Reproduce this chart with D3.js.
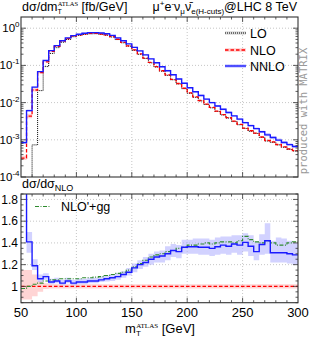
<!DOCTYPE html>
<html>
<head>
<meta charset="utf-8">
<script src="https://cdn.jsdelivr.net/npm/d3@7"></script>
<style>
  body { margin: 0; background: #fff; }
  svg { font-family: "Liberation Sans", Arial, sans-serif; }
</style>
</head>
<body>
<svg id="chart" width="311" height="340"></svg>
<script>
// bin lower edges (5 GeV bins from 50 to 300)
var binLo = d3.range(50, 300, 5);

// dsigma/dmT [fb/GeV]
var lo = [null, null, 0.00073, 0.021, 0.093, 0.21, 0.30, 0.42, 0.50, 0.59,
  0.645, 0.685, 0.705, 0.71, 0.685, 0.65, 0.58, 0.495, 0.405, 0.33,
  0.255, 0.199, 0.153, 0.117, 0.0905, 0.070, 0.054, 0.041, 0.0318, 0.0237,
  0.0178, 0.0139, 0.0111, 0.00888, 0.00722, 0.00578, 0.00466, 0.00384, 0.00309, 0.00254,
  0.00201, 0.0017, 0.00148, 0.00116, 0.00093, 0.00085, 0.00073, 0.00063, 0.00055, 0.0005];
var nlo = [0.000323, 0.00433, 0.0218, 0.0636, 0.1239, 0.2404, 0.3238, 0.4466, 0.5238, 0.6117,
  0.6635, 0.7019, 0.7238, 0.7238, 0.6981, 0.6636, 0.5926, 0.5046, 0.4144, 0.3363,
  0.2607, 0.2042, 0.1574, 0.12, 0.0929, 0.0719, 0.0554, 0.0421, 0.0326, 0.0243,
  0.0183, 0.01429, 0.0114, 0.00912, 0.00741, 0.00593, 0.00478, 0.00394, 0.00317, 0.00261,
  0.00206, 0.00175, 0.00152, 0.00119, 0.000958, 0.000878, 0.000748, 0.000649, 0.000569, 0.000512];
var nnlo = [0.00084, 0.0061, 0.026, 0.068, 0.135, 0.25, 0.34, 0.46, 0.55, 0.63,
  0.69, 0.73, 0.76, 0.76, 0.74, 0.71, 0.64, 0.55, 0.46, 0.38,
  0.305, 0.245, 0.192, 0.150, 0.118, 0.092, 0.072, 0.056, 0.043, 0.033,
  0.025, 0.0195, 0.0155, 0.0124, 0.0100, 0.0081, 0.0066, 0.0054, 0.0044, 0.0036,
  0.0029, 0.0024, 0.0020, 0.00165, 0.00136, 0.00115, 0.00098, 0.00085, 0.00074, 0.00066];

// ratios to NLO
var rNNLO = [2.6, 1.41, 1.19, 1.07, 1.09, 1.04, 1.05, 1.03, 1.05, 1.03,
  1.04, 1.04, 1.05, 1.05, 1.06, 1.07, 1.08, 1.09, 1.11, 1.13,
  1.17, 1.20, 1.22, 1.25, 1.27, 1.28, 1.30, 1.33, 1.32, 1.36,
  1.365, 1.365, 1.36, 1.36, 1.35, 1.365, 1.38, 1.37, 1.39, 1.38,
  1.405, 1.37, 1.32, 1.385, 1.42, 1.31, 1.31, 1.31, 1.30, 1.29];
var rNNLOlo = [2.4, 1.31, 1.15, 1.04, 1.06, 1.02, 1.03, 1.01, 1.03, 1.01,
  1.02, 1.02, 1.03, 1.03, 1.04, 1.045, 1.05, 1.06, 1.08, 1.10,
  1.13, 1.16, 1.18, 1.20, 1.22, 1.22, 1.24, 1.27, 1.26, 1.30,
  1.30, 1.30, 1.29, 1.29, 1.28, 1.29, 1.30, 1.29, 1.31, 1.29,
  1.32, 1.28, 1.24, 1.29, 1.30, 1.22, 1.22, 1.22, 1.21, 1.20];
var rNNLOhi = [2.9, 1.50, 1.25, 1.11, 1.12, 1.07, 1.08, 1.06, 1.08, 1.06,
  1.07, 1.07, 1.08, 1.08, 1.09, 1.10, 1.11, 1.12, 1.14, 1.17,
  1.21, 1.24, 1.27, 1.30, 1.32, 1.33, 1.37, 1.39, 1.38, 1.43,
  1.43, 1.44, 1.44, 1.44, 1.43, 1.45, 1.46, 1.46, 1.47, 1.47,
  1.49, 1.47, 1.41, 1.48, 1.58, 1.42, 1.45, 1.44, 1.42, 1.40];
var rNLOlo = [0.88, 0.88, 0.91, 0.95, 0.975, 0.98, 0.98, 0.98, 0.98, 0.98,
  0.98, 0.98, 0.98, 0.98, 0.98, 0.98, 0.98, 0.98, 0.98, 0.98,
  0.98, 0.98, 0.98, 0.98, 0.98, 0.98, 0.98, 0.98, 0.98, 0.98,
  0.98, 0.98, 0.98, 0.98, 0.98, 0.98, 0.98, 0.98, 0.98, 0.98,
  0.98, 0.98, 0.98, 0.98, 0.98, 0.98, 0.98, 0.98, 0.98, 0.98];
var rNLOhi = [1.15, 1.15, 1.11, 1.05, 1.03, 1.02, 1.02, 1.02, 1.02, 1.02,
  1.02, 1.02, 1.02, 1.02, 1.02, 1.02, 1.02, 1.02, 1.02, 1.02,
  1.02, 1.02, 1.02, 1.02, 1.02, 1.02, 1.02, 1.02, 1.02, 1.02,
  1.02, 1.02, 1.02, 1.02, 1.02, 1.02, 1.02, 1.02, 1.02, 1.02,
  1.02, 1.02, 1.02, 1.02, 1.02, 1.02, 1.02, 1.02, 1.02, 1.02];
var rNLOpgg = [0.98, 1.00, 1.02, 1.03, 1.05, 1.06, 1.06, 1.07, 1.07, 1.07,
  1.07, 1.08, 1.08, 1.085, 1.09, 1.10, 1.11, 1.12, 1.13, 1.15,
  1.18, 1.21, 1.24, 1.27, 1.29, 1.30, 1.32, 1.33, 1.35, 1.36,
  1.38, 1.38, 1.39, 1.40, 1.39, 1.40, 1.41, 1.41, 1.40, 1.42,
  1.46, 1.43, 1.41, 1.40, 1.42, 1.40, 1.38, 1.38, 1.40, 1.41];

// tick labels
var xLabels = [50, 100, 150, 200, 250, 300];
var yExps = [0, -1, -2, -3, -4];
var rLabels = [1, 1.2, 1.4, 1.6, 1.8];

var colLO = "#000", colNLO = "#ff0000", colNNLO = "#1a1aff", colGG = "#2e8b2e";

var svg = d3.select("#chart");

var x = d3.scaleLinear().domain([50, 300]).range([21, 298]);
var yT = d3.scaleLog().domain([1e-4, 2]).range([177, 17]);
var yR = d3.scaleLinear().domain([0.85, 1.85]).range([302.7, 194]);

var defs = svg.append("defs");
defs.append("clipPath").attr("id", "clipT").append("rect")
    .attr("x", 21).attr("y", 17).attr("width", 277).attr("height", 160);
defs.append("clipPath").attr("id", "clipR").append("rect")
    .attr("x", 21).attr("y", 194).attr("width", 277).attr("height", 108.7);

// step helpers: points at bin edges, last value repeated at 300
function pts(vals) {
  var p = [];
  vals.forEach(function(v, i) { if (v != null) p.push([binLo[i], v]); });
  p.push([300, p[p.length - 1][1]]);
  return p;
}
function stepLine(ys) {
  return d3.line().curve(d3.curveStepAfter)
      .x(function(d) { return x(d[0]); })
      .y(function(d) { return ys(d[1]); });
}
function stepBand(ys, loV, hiV) {
  var d = binLo.map(function(b, i) { return [b, loV[i], hiV[i]]; });
  d.push([300, loV[loV.length - 1], hiV[hiV.length - 1]]);
  return d3.area().curve(d3.curveStepAfter)
      .x(function(e) { return x(e[0]); })
      .y0(function(e) { return ys(e[1]); })
      .y1(function(e) { return ys(e[2]); })(d);
}

// ---------- grids ----------
function grid(yScale, yVals, y0, y1) {
  var g = svg.append("g").attr("stroke", "#b8b8b8").attr("stroke-width", 0.8)
      .attr("stroke-dasharray", "1,2");
  [100, 150, 200, 250].forEach(function(v) {
    g.append("line").attr("x1", x(v)).attr("x2", x(v)).attr("y1", y0).attr("y2", y1);
  });
  yVals.forEach(function(v) {
    g.append("line").attr("x1", 21).attr("x2", 298).attr("y1", yScale(v)).attr("y2", yScale(v));
  });
}
grid(yT, [1, 0.1, 0.01, 0.001], 17, 177);
grid(yR, [1.2, 1.4, 1.6, 1.8], 194, 302.7);

// ---------- top panel ----------
var gTop = svg.append("g").attr("clip-path", "url(#clipT)");
var nnloTopLo = nlo.map(function(v, i) { return v * rNNLOlo[i]; });
var nnloTopHi = nlo.map(function(v, i) { return v * rNNLOhi[i]; });
var nloTopLo = nlo.map(function(v, i) { return v * rNLOlo[i]; });
var nloTopHi = nlo.map(function(v, i) { return v * rNLOhi[i]; });

gTop.append("path").attr("d", stepBand(yT, nloTopLo, nloTopHi))
    .attr("fill", "#ffb0b0").attr("opacity", 0.6);
gTop.append("path").attr("d", stepBand(yT, nnloTopLo, nnloTopHi))
    .attr("fill", "#a8a8ff").attr("opacity", 0.6);

var loPts = pts(lo);
loPts.unshift([60, 1e-6]);
gTop.append("path").attr("d", stepLine(yT)(loPts))
    .attr("fill", "none").attr("stroke", colLO).attr("stroke-width", 1)
    .attr("stroke-dasharray", "1,1");
gTop.append("path").attr("d", stepLine(yT)(pts(nlo)))
    .attr("fill", "none").attr("stroke", colNLO).attr("stroke-width", 1.3)
    .attr("stroke-dasharray", "3.5,2");
gTop.append("path").attr("d", stepLine(yT)(pts(nnlo)))
    .attr("fill", "none").attr("stroke", colNNLO).attr("stroke-width", 1.4);

// ---------- ratio panel ----------
var gRat = svg.append("g").attr("clip-path", "url(#clipR)");
gRat.append("path").attr("d", stepBand(yR, rNLOlo, rNLOhi))
    .attr("fill", "#ffb8b8").attr("opacity", 0.6);
gRat.append("path").attr("d", stepBand(yR, rNNLOlo, rNNLOhi))
    .attr("fill", "#b4b4ff").attr("opacity", 0.6);
gRat.append("line").attr("x1", x(50)).attr("x2", x(300)).attr("y1", yR(1)).attr("y2", yR(1))
    .attr("stroke", colNLO).attr("stroke-width", 1.4).attr("stroke-dasharray", "3.5,2");
gRat.append("path").attr("d", stepLine(yR)(pts(rNLOpgg)))
    .attr("fill", "none").attr("stroke", colGG).attr("stroke-width", 1.1)
    .attr("stroke-dasharray", "4,1.5,1,1.5");
gRat.append("path").attr("d", stepLine(yR)(pts(rNNLO)))
    .attr("fill", "none").attr("stroke", colNNLO).attr("stroke-width", 1.4);

// ---------- ticks and frames ----------
var xMinor = d3.range(60, 300, 10).filter(function(v) { return v % 50 !== 0; });
var xMajor = [100, 150, 200, 250];
function xTicks(y0, y1) {
  var g = svg.append("g").attr("stroke", "#333").attr("stroke-width", 0.8);
  xMinor.forEach(function(v) {
    g.append("line").attr("x1", x(v)).attr("x2", x(v)).attr("y1", y1).attr("y2", y1 - 2.5);
    g.append("line").attr("x1", x(v)).attr("x2", x(v)).attr("y1", y0).attr("y2", y0 + 2.5);
  });
  xMajor.forEach(function(v) {
    g.append("line").attr("x1", x(v)).attr("x2", x(v)).attr("y1", y1).attr("y2", y1 - 5);
    g.append("line").attr("x1", x(v)).attr("x2", x(v)).attr("y1", y0).attr("y2", y0 + 5);
  });
}
function yTicks(ys, majors, minors) {
  var g = svg.append("g").attr("stroke", "#333").attr("stroke-width", 0.8);
  minors.forEach(function(v) {
    g.append("line").attr("x1", 21).attr("x2", 23.5).attr("y1", ys(v)).attr("y2", ys(v));
    g.append("line").attr("x1", 298).attr("x2", 295.5).attr("y1", ys(v)).attr("y2", ys(v));
  });
  majors.forEach(function(v) {
    g.append("line").attr("x1", 21).attr("x2", 26).attr("y1", ys(v)).attr("y2", ys(v));
    g.append("line").attr("x1", 298).attr("x2", 293).attr("y1", ys(v)).attr("y2", ys(v));
  });
}
xTicks(17, 177);
xTicks(194, 302.7);
var logMinor = [];
[-4, -3, -2, -1, 0].forEach(function(e) {
  d3.range(2, 10).forEach(function(m) {
    var v = m * Math.pow(10, e);
    if (v < 2) logMinor.push(v);
  });
});
yTicks(yT, yExps.map(function(e) { return Math.pow(10, e); }), logMinor);
yTicks(yR, rLabels, d3.range(0.85, 1.86, 0.05).filter(function(v) {
  return Math.abs(Math.round(v * 5) - v * 5) > 0.01;
}));

svg.append("rect").attr("x", 21).attr("y", 17).attr("width", 277).attr("height", 160)
    .attr("fill", "none").attr("stroke", "#333").attr("stroke-width", 1.1);
svg.append("rect").attr("x", 21).attr("y", 194).attr("width", 277).attr("height", 108.7)
    .attr("fill", "none").attr("stroke", "#333").attr("stroke-width", 1.1);

// ---------- axis labels ----------
yExps.forEach(function(e) {
  var t = svg.append("text").attr("x", 19.5).attr("y", yT(Math.pow(10, e)) + 4)
      .attr("text-anchor", "end").attr("font-size", 11.5);
  t.append("tspan").text("10");
  t.append("tspan").attr("font-size", 8).attr("dy", -5).text(e === 0 ? "0" : "-" + (-e));
});
rLabels.forEach(function(v) {
  svg.append("text").attr("x", 18).attr("y", yR(v) + 4.2)
      .attr("text-anchor", "end").attr("font-size", 12).text(v === 1 ? "1" : v.toFixed(1));
});
xLabels.forEach(function(v) {
  svg.append("text").attr("x", x(v)).attr("y", 317)
      .attr("text-anchor", "middle").attr("font-size", 13).text(v);
});

// x axis title
var xt = svg.append("text").attr("x", 160).attr("y", 333)
    .attr("text-anchor", "middle").attr("font-size", 13);
xt.append("tspan").text("m");
xt.append("tspan").attr("font-size", 8).attr("dy", 3).text("T");
xt.append("tspan").attr("font-size", 7).attr("font-family", "Liberation Serif")
    .attr("dx", -4.5).attr("dy", -8.5).text("ATLAS");
xt.append("tspan").attr("dy", 5.5).text(" [GeV]");

// top title left
var tl = svg.append("text").attr("x", 22).attr("y", 11).attr("font-size", 12.5);
tl.append("tspan").text("dσ/dm");
tl.append("tspan").attr("font-size", 7).attr("dy", 3).text("T");
tl.append("tspan").attr("font-size", 6.5).attr("font-family", "Liberation Serif")
    .attr("dx", -4).attr("dy", -8).text("ATLAS");
tl.append("tspan").attr("dy", 5).text(" [fb/GeV]");

// top title right
var tr = svg.append("text").attr("x", 297).attr("y", 11)
    .attr("text-anchor", "end").attr("font-size", 12.5);
tr.append("tspan").text("μ");
tr.append("tspan").attr("font-size", 8).attr("dy", -5).text("+");
tr.append("tspan").attr("dy", 5).text("e");
tr.append("tspan").attr("font-size", 8).attr("dy", -5).text("-");
tr.append("tspan").attr("dy", 5).text("ν");
tr.append("tspan").attr("font-size", 8).attr("dy", 3).text("μ");
tr.append("tspan").attr("dy", -3).text("ν\u0304");
tr.append("tspan").attr("font-size", 8).attr("dy", 3).text("e(H-cuts)");
tr.append("tspan").attr("dy", -3).text("@LHC 8 TeV");

// ratio title
var rt = svg.append("text").attr("x", 22).attr("y", 188).attr("font-size", 12.5);
rt.append("tspan").text("dσ/dσ");
rt.append("tspan").attr("font-size", 9).attr("dy", 3).text("NLO");

// legends
var leg = [
  {name: "LO", col: colLO, dash: "1,1", w: 1, band: "#cccccc", y: 33},
  {name: "NLO", col: colNLO, dash: "3.5,2", w: 1.3, band: "#ffb8b8", y: 50},
  {name: "NNLO", col: colNNLO, dash: null, w: 1.4, band: "#b4b4ff", y: 66}
];
leg.forEach(function(l) {
  svg.append("line").attr("x1", 225).attr("x2", 246).attr("y1", l.y).attr("y2", l.y)
      .attr("stroke", l.band).attr("stroke-width", 3.5).attr("opacity", 0.7);
  svg.append("line").attr("x1", 225).attr("x2", 246).attr("y1", l.y).attr("y2", l.y)
      .attr("stroke", l.col).attr("stroke-width", l.w).attr("stroke-dasharray", l.dash);
  svg.append("text").attr("x", 250).attr("y", l.y + 4.5).attr("font-size", 12.5).text(l.name);
});
svg.append("line").attr("x1", 35).attr("x2", 50).attr("y1", 206.5).attr("y2", 206.5)
    .attr("stroke", colGG).attr("stroke-width", 1.1).attr("stroke-dasharray", "4,1.5,1,1.5");
svg.append("text").attr("x", 61).attr("y", 211).attr("font-size", 12.5).text("NLO'+gg");

// watermark
svg.append("text").attr("transform", "translate(307,111) rotate(-90)")
    .attr("text-anchor", "middle").attr("font-family", "DejaVu Sans Mono")
    .attr("font-size", 10.5).attr("fill", "#999").text("produced with MATRIX");
</script>
</body>
</html>
